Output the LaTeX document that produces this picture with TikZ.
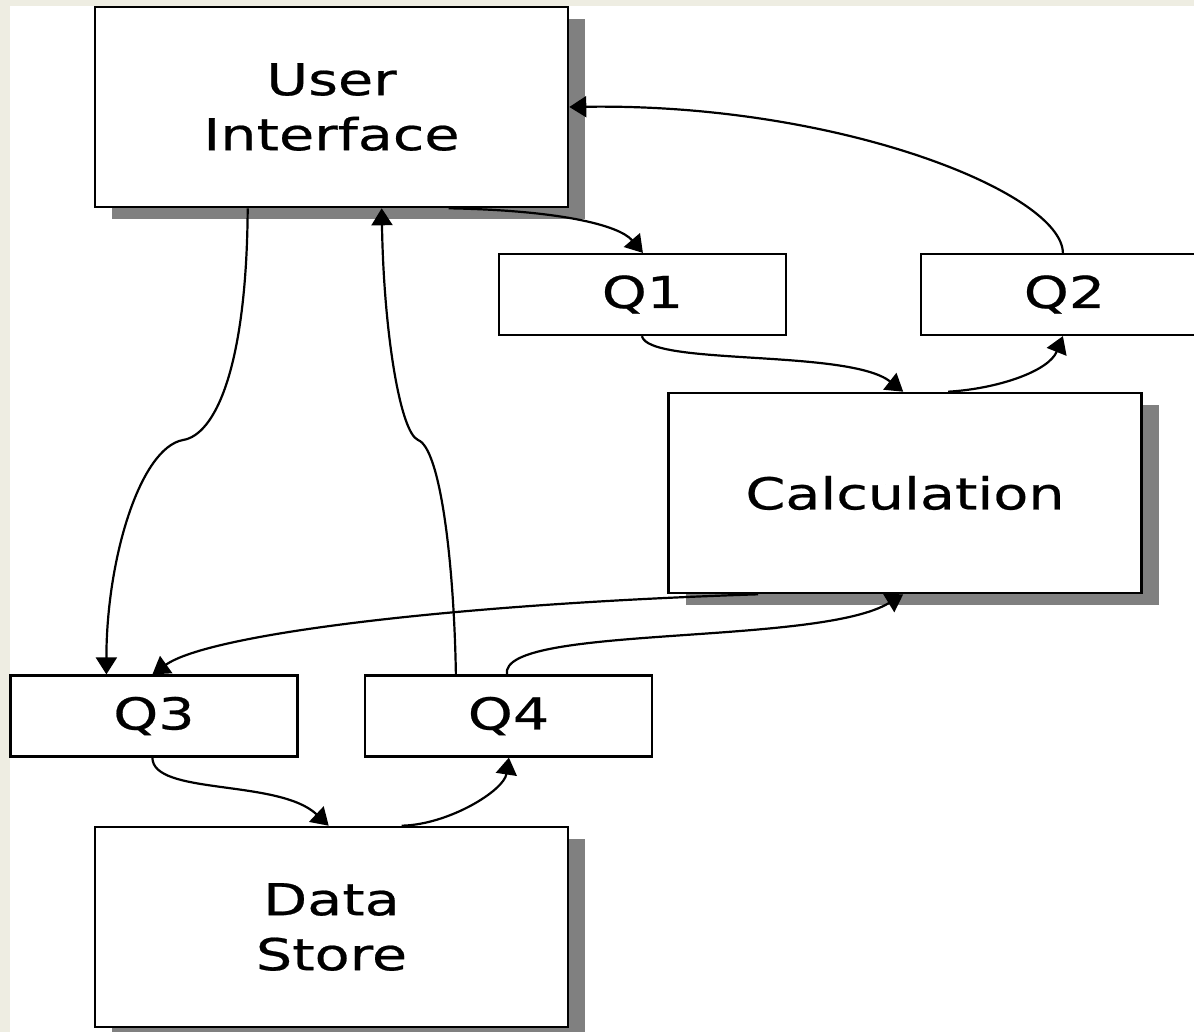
\documentclass[tikz,border=0pt]{standalone}
\usepackage{fontspec}
\setmainfont{DejaVu Sans}[FakeStretch=1.3,FakeBold=0.5]
\usetikzlibrary{arrows.meta,shadows}
\definecolor{bgbeige}{RGB}{238,237,226}
\definecolor{shadowgray}{RGB}{128,128,128}
\tikzset{
  bigbox/.style={draw=black, line width=2.6pt, fill=white, minimum width=473pt, minimum height=200pt,
    align=center, inner sep=0pt, font=\fontsize{44}{55}\selectfont,
    drop shadow={shadow xshift=17pt, shadow yshift=-12pt, fill=shadowgray, opacity=1}},
  qbox/.style={draw=black, line width=2.2pt, fill=white, minimum width=287pt, minimum height=81pt,
    inner sep=0pt, font=\fontsize{44}{55}\selectfont},
  conn/.style={line width=2.2pt, -{Triangle[length=17pt,width=21pt]}}
}
\begin{document}
\begin{tikzpicture}[x=1pt,y=-1pt]
\clip (0,0) rectangle (1194,1032);
\fill[bgbeige] (0,0) rectangle (1194,1032);
\fill[white] (10,6) rectangle (1194,1032);

\node[bigbox] (ui) at (331.5,107) {User\\Interface};
\node[bigbox] (calc) at (905,493) {Calculation};
\node[bigbox] (ds) at (331.5,927) {Data\\Store};

\node[qbox] (q1) at (642.5,294.5) {Q1};
\node[qbox] (q2) at (1064.5,294.5) {Q2};
\node[qbox] (q3) at (154,716) {Q3};
\node[qbox] (q4) at (508.5,716) {Q4};

\coordinate (k5) at (183,440);
\coordinate (k6) at (418,440);

% UI -> Q1
\draw[conn] ([xshift=355pt]ui.south west) .. controls +(110,2) and +(-24,-28) .. ([xshift=145pt]q1.north west);
% Q1 -> Calculation
\draw[conn] ([xshift=144pt]q1.south west) .. controls +(7,30) and +(-55,-43) .. ([xshift=236pt]calc.north west);
% Calculation -> Q2
\draw[conn] ([xshift=281pt]calc.north west) .. controls +(50,-3) and +(-14,35) .. ([xshift=143pt]q2.south west);
% Q2 -> UI
\draw[conn] ([xshift=143pt]q2.north west) .. controls +(-1,-60) and +(270,-4) .. (ui.east);
% UI -> Q3
\draw[conn] ([xshift=154pt]ui.south west) .. controls +(-1,160) and +(32,-5) .. (k5)
  .. controls +(-43,8) and +(0,-115) .. ([xshift=97pt]q3.north west);
% Q4 -> UI
\draw[conn] ([xshift=92pt]q4.north west) .. controls +(-2,-115) and +(22,8) .. (k6)
  .. controls +(-18,-8) and +(2,123) .. ([xshift=288pt]ui.south west);
% Calculation -> Q3
\draw[conn] ([xshift=91pt]calc.south west) .. controls +(-310,10) and +(56,-40) .. ([xshift=143pt]q3.north west);
% Q4 -> Calculation
\draw[conn] ([xshift=143pt]q4.north west) .. controls +(-8,-50) and +(-85,52) .. ([xshift=236pt]calc.south west);
% Q3 -> Data Store
\draw[conn] ([xshift=143pt]q3.south west) .. controls +(0,38) and +(-50,-47) .. ([xshift=235pt]ds.north west);
% Data Store -> Q4
\draw[conn] ([xshift=308pt]ds.north west) .. controls +(47,-1) and +(-5,33) .. ([xshift=145pt]q4.south west);
\end{tikzpicture}
\end{document}
